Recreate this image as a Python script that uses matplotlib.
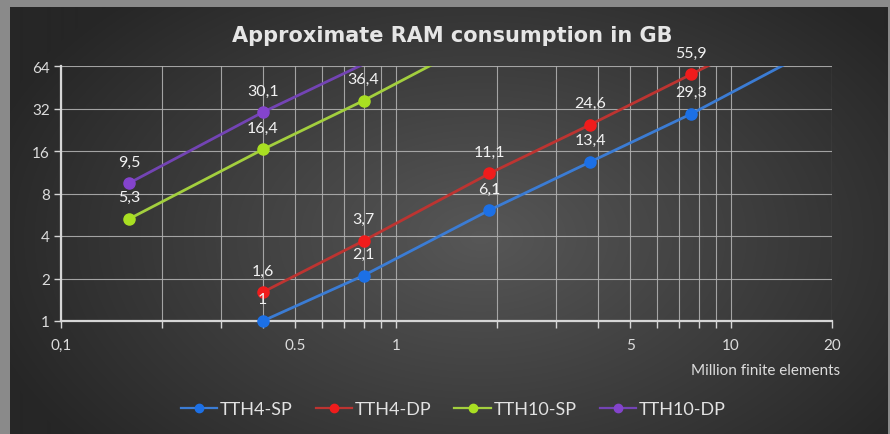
import numpy as np
import matplotlib.pyplot as plt
from matplotlib.lines import Line2D

plt.rcParams['font.family'] = ['Lato', 'DejaVu Sans']

# RAM (GB) over mesh size (million finite elements)
# the last value of every series lies above the 64 GB limit and is only seen as the clipped line
tth4_x = [0.4, 0.8, 1.9, 3.8, 7.6, 15.2]
tth4_sp = [1, 2.1, 6.1, 13.4, 29.3, 70]
tth4_dp = [1.6, 3.7, 11.1, 24.6, 55.9, 128]
tth10_x = [0.16, 0.4, 0.8, 1.9]
tth10_sp = [5.3, 16.4, 36.4, 107]
tth10_dp = [9.5, 30.1, 66]

series = [
    ("TTH4-SP", tth4_x, tth4_sp, "#3b7cd4", "#1c70e6"),
    ("TTH4-DP", tth4_x, tth4_dp, "#bd3431", "#f01c1c"),
    ("TTH10-SP", tth10_x, tth10_sp, "#a3cf3e", "#a9df22"),
    ("TTH10-DP", tth10_x[:len(tth10_dp)], tth10_dp, "#7344b4", "#8444cc"),
]

x_ticks = [0.1, 0.2, 0.3, 0.4, 0.5, 0.6, 0.7, 0.8, 0.9, 1, 2, 3, 4, 5, 6, 7, 8, 9, 10, 20]
x_labels = {0.1: "0,1", 0.5: "0.5", 1: "1", 5: "5", 10: "10", 20: "20"}
y_ticks = [1, 2, 4, 8, 16, 32, 64]
y_max = 64

W, H = 890, 435
fig = plt.figure(figsize=(W / 100, H / 100), dpi=100)
fig.patch.set_facecolor("#8a8a8a")

# dark radial background of the chart area
bg = fig.add_axes([10 / W, 0, 877 / W, 427 / H], zorder=0)
yy, xx = np.mgrid[0:427, 0:877]
d = np.sqrt(((xx - 470) / 520.0) ** 2 + ((yy - 230) / 330.0) ** 2)
shade = np.clip(0x57 - (0x57 - 0x26) * d, 0x26, 0x57) / 255.0
bg.imshow(np.dstack([shade] * 3), aspect="auto", interpolation="bilinear")
bg.set_axis_off()

ax = fig.add_axes([61 / W, 1 - 322 / H, 771 / W, 255 / H], zorder=1)
ax.patch.set_visible(False)
ax.set_xscale("log")
ax.set_yscale("log", base=2)
ax.set_xlim(0.1, 20)
ax.set_ylim(1, y_max)

ax.set_xticks(x_ticks, [x_labels.get(t, "") for t in x_ticks])
ax.set_yticks(y_ticks, [str(t) for t in y_ticks])
ax.minorticks_off()
ax.grid(True, color="#b0b0b0", lw=0.8, alpha=0.9)
ax.set_axisbelow(True)
for s in ["top", "right"]:
    ax.spines[s].set_visible(False)
for s in ["left", "bottom"]:
    ax.spines[s].set_color("#d6d6d6")
    ax.spines[s].set_linewidth(1.6)
ax.tick_params(axis="x", length=5, width=1, color="#d6d6d6", labelcolor="#dcdcdc", pad=7, labelsize=11)
ax.tick_params(axis="y", length=5, width=1, color="#d6d6d6", labelcolor="#dcdcdc", pad=3, labelsize=11)

handles = []
for name, xs, ys, lc, mc in series:
    ax.plot(xs, ys, color=lc, lw=2, zorder=3)
    vx = [x for x, y in zip(xs, ys) if y <= y_max]
    vy = [y for y in ys if y <= y_max]
    ax.plot(vx, vy, ls="none", marker="o", ms=8, mfc=mc, mec=mc, zorder=4, clip_on=False)
    for x, y in zip(vx, vy):
        lab = ("%g" % y).replace(".", ",")
        ax.annotate(lab, (x, y), xytext=(0, 15.5), textcoords="offset points",
                    ha="center", va="center", color="#f2f2f2", fontsize=11.5,
                    annotation_clip=False, zorder=5)
    handles.append(Line2D([], [], color=lc, lw=1.6, marker="o", ms=6, mfc=mc, mec=mc, label=name))

fig.text(452 / W, 1 - 36 / H, "Approximate RAM consumption in GB", ha="center", va="center",
         color="#e6e6e6", fontsize=15, fontweight="bold", family=["DejaVu Sans"])
fig.text(840 / W, 1 - 371 / H, "Million finite elements", ha="right", va="center",
         color="#dcdcdc", fontsize=11)

fig.legend(handles=handles, loc="center", bbox_to_anchor=(453 / W, 1 - 410 / H), ncol=4,
           frameon=False, fontsize=13, handlelength=2.0, handletextpad=0.15,
           columnspacing=1.3, labelcolor="#e2e2e2")

fig.savefig("out.png", dpi=100, facecolor=fig.get_facecolor())
